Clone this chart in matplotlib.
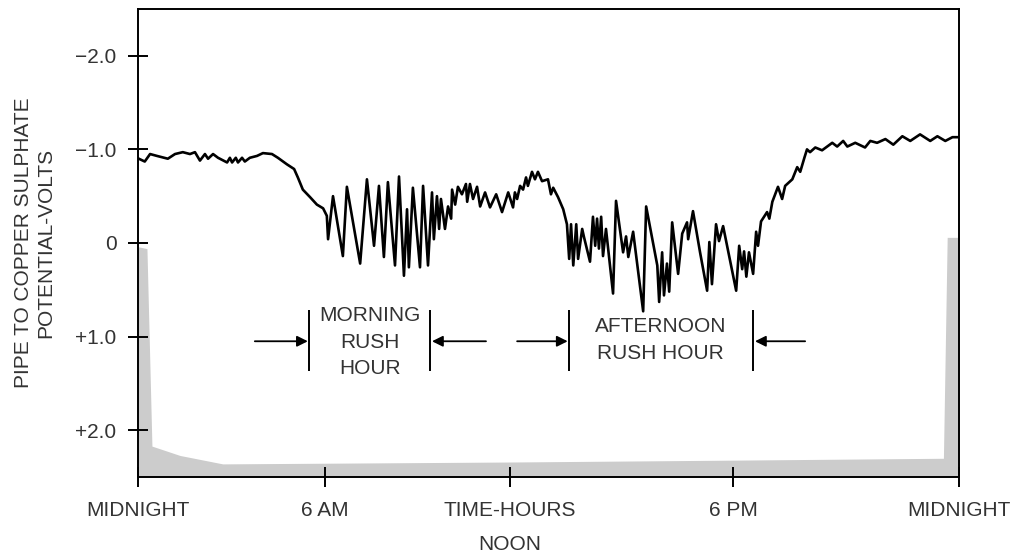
import matplotlib.pyplot as plt
import numpy as np
from matplotlib.scale import FuncScale

plt.rcParams['font.family'] = ['Liberation Sans', 'DejaVu Sans']

# pipe-to-soil potential over 24 hours (volts, negative = up)
hours = [0.03, 0.22, 0.39, 0.61, 0.96, 1.19, 1.44, 1.67, 1.83, 1.99, 2.15, 2.25, 2.41, 2.57,
         2.86, 2.95, 3.02, 3.14, 3.21, 3.34, 3.43, 3.59, 3.82, 4.01, 4.30, 4.49, 4.78, 5.01,
         5.13, 5.29, 5.52, 5.74, 5.94, 6.06, 6.10,
         6.26, 6.58, 6.71, 7.14, 7.36, 7.59, 7.75, 7.91, 8.04, 8.27, 8.40, 8.56, 8.66, 8.72,
         8.85, 9.08, 9.18, 9.34, 9.47, 9.53, 9.63, 9.70, 9.76, 9.89, 9.99, 10.09, 10.12,
         10.22, 10.31, 10.44, 10.57, 10.61, 10.70, 10.80, 10.93, 11.03, 11.19, 11.35, 11.55,
         11.74, 11.94, 12.08, 12.13, 12.19, 12.27, 12.35, 12.43, 12.48, 12.59, 12.67, 12.75,
         12.86, 13.02, 13.10, 13.16, 13.29, 13.43, 13.53, 13.59, 13.64, 13.70, 13.78, 13.83,
         13.94, 13.99, 14.15, 14.23, 14.29, 14.34, 14.39, 14.45, 14.50, 14.58, 14.77, 14.85,
         15.04, 15.12, 15.18, 15.31, 15.58, 15.66, 15.96, 16.01, 16.09, 16.14, 16.22, 16.28,
         16.36, 16.52, 16.63, 16.76, 16.79, 16.92, 17.11, 17.30, 17.36, 17.43, 17.54, 17.62,
         17.73, 18.08, 18.16, 18.24, 18.29, 18.35, 18.42, 18.53, 18.61, 18.66, 18.74, 18.90,
         18.96, 19.04, 19.19, 19.30, 19.38, 19.57, 19.65, 19.70, 19.78, 19.89, 19.96, 20.04,
         20.18, 20.36, 20.63, 20.76, 20.92, 21.03, 21.24, 21.50, 21.64, 21.82, 22.04, 22.25,
         22.49, 22.70, 22.96, 23.23, 23.42, 23.63, 23.82, 24.00]
volts = [-0.90, -0.87, -0.95, -0.93, -0.90, -0.95, -0.97, -0.95, -0.97, -0.88, -0.95, -0.90, -0.95, -0.91,
         -0.86, -0.91, -0.86, -0.91, -0.86, -0.91, -0.87, -0.91, -0.93, -0.96, -0.95, -0.91, -0.84, -0.79,
         -0.70, -0.57, -0.49, -0.41, -0.37, -0.29, -0.04,
         -0.50, 0.14, -0.60, 0.22, -0.68, 0.03, -0.61, 0.15, -0.65, 0.24, -0.71, 0.35, -0.36, 0.26,
         -0.59, 0.26, -0.61, 0.24, -0.54, -0.04, -0.50, -0.15, -0.47, -0.15, -0.39, -0.26, -0.57,
         -0.41, -0.60, -0.52, -0.63, -0.44, -0.63, -0.47, -0.60, -0.39, -0.54, -0.38, -0.52,
         -0.33, -0.54, -0.38, -0.54, -0.47, -0.61, -0.57, -0.70, -0.61, -0.76, -0.68, -0.76,
         -0.66, -0.68, -0.52, -0.59, -0.49, -0.36, -0.20, 0.17, -0.20, 0.24, -0.20, 0.17,
         -0.15, -0.06, 0.20, -0.28, 0.03, -0.26, 0.06, -0.28, 0.14, -0.15, 0.54, -0.45,
         0.10, -0.07, 0.15, -0.12, 0.73, -0.39, 0.24, 0.63, 0.10, 0.56, 0.22, 0.52,
         -0.22, 0.33, -0.10, -0.22, -0.04, -0.34, 0.10, 0.51, -0.01, 0.44, -0.20, -0.02,
         -0.18, 0.51, 0.03, 0.28, 0.09, 0.36, 0.10, 0.33, -0.12, 0.03, -0.23, -0.33,
         -0.26, -0.44, -0.60, -0.47, -0.61, -0.68, -0.76, -0.81, -0.76, -0.91, -1.00, -0.97,
         -1.02, -0.99, -1.07, -1.03, -1.09, -1.03, -1.07, -1.02, -1.09, -1.07, -1.11, -1.05,
         -1.14, -1.09, -1.16, -1.09, -1.14, -1.09, -1.13, -1.13]

# shaded trace along the bottom
shade_hours = [0.0, 0.29, 0.45, 1.35, 2.72, 12.0, 18.0, 23.58, 23.68, 24.0]
shade_volts = [0.04, 0.06, 2.17, 2.27, 2.36, 2.34, 2.32, 2.30, -0.06, -0.06]

xtick_hours = [0, 6, 12, 18, 24]
xtick_labels = ['MIDNIGHT', '6 AM', 'TIME-HOURS', '6 PM', 'MIDNIGHT']
ytick_vals = [-2.0, -1.0, 0.0, 1.0, 2.0]
ytick_labels = ['\u22122.0', '\u22121.0', '0', '+1.0', '+2.0']

# the hour ticks in the original are not evenly spaced
tick_place = [0, 187, 372, 595, 821]


def fwd(h):
    return np.interp(h, xtick_hours, tick_place)


def inv(p):
    return np.interp(p, tick_place, xtick_hours)


txt = '#333333'
fig = plt.figure(figsize=(10.14, 5.59), dpi=100)
ax = fig.add_axes([0.136, 0.1467, 0.810, 0.8373])
ax.set_xscale(FuncScale(ax, (fwd, inv)))

ax.fill_between(shade_hours, shade_volts, 2.5, color='#cccccc', lw=0)
ax.plot(hours, volts, color='black', lw=1.9, solid_joinstyle='round')

ax.set_xlim(0, 24)
ax.set_ylim(2.5, -2.5)
ax.set_xticks(xtick_hours)
ax.set_xticklabels(xtick_labels)
ax.set_yticks(ytick_vals)
ax.set_yticklabels(ytick_labels)
ax.tick_params(direction='inout', length=15, width=1.4, labelsize=15,
               labelcolor=txt, pad=8)
ax.tick_params(axis='x', pad=10)
for s in ax.spines.values():
    s.set_linewidth(1.4)

ax.set_ylabel('PIPE TO COPPER SULPHATE\nPOTENTIAL-VOLTS', fontsize=15,
              color=txt, labelpad=14, linespacing=1.25)
ax.text(12, 3.22, 'NOON', ha='center', va='center', fontsize=15,
        color=txt, clip_on=False)

# rush hour brackets
arr = dict(arrowstyle='-|>', color='black', lw=1.3, mutation_scale=16,
           shrinkA=0, shrinkB=0)
ax.vlines([5.49, 9.41, 13.59, 18.53], 0.72, 1.37, color='black', lw=1.4)
ax.annotate('', xy=(5.45, 1.05), xytext=(3.75, 1.05), arrowprops=arr)
ax.annotate('', xy=(9.47, 1.05), xytext=(11.22, 1.05), arrowprops=arr)
ax.annotate('', xy=(13.55, 1.05), xytext=(12.19, 1.05), arrowprops=arr)
ax.annotate('', xy=(18.58, 1.05), xytext=(19.91, 1.05), arrowprops=arr)
ax.text(7.46, 1.06, 'MORNING\nRUSH\nHOUR', ha='center', va='center',
        fontsize=15, color=txt, linespacing=1.52)
ax.text(16.04, 1.04, 'AFTERNOON\nRUSH HOUR', ha='center', va='center',
        fontsize=15, color=txt, linespacing=1.52)

fig.savefig('out.png', dpi=100)
